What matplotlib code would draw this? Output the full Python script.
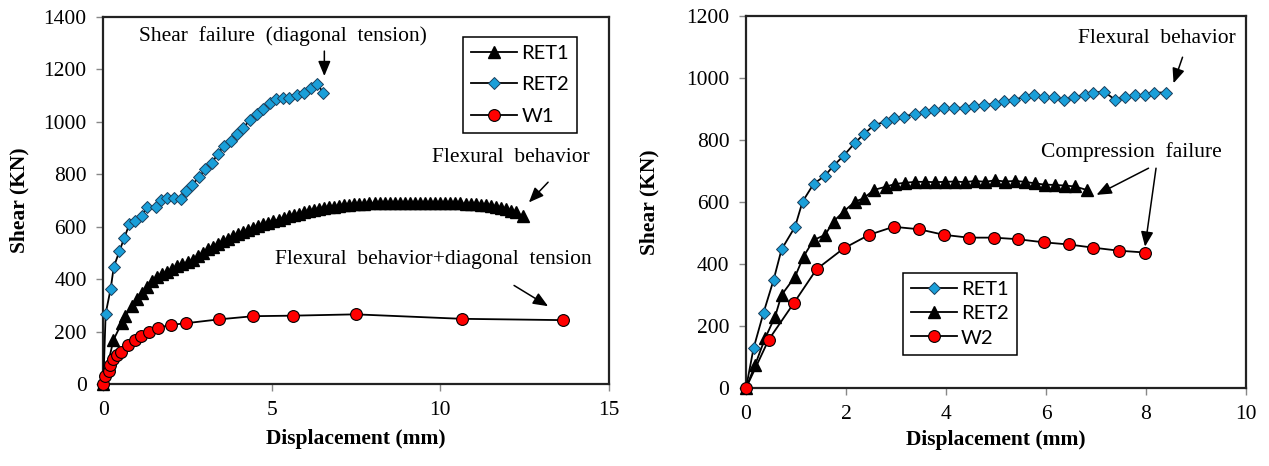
import matplotlib

matplotlib.use("Agg")
import matplotlib.pyplot as plt


# Left panel: RET1, RET2, W1
left_ret1_x = [0, 0.3, 0.55, 0.65, 0.85, 1.0, 1.15, 1.3, 1.45, 1.6, 1.75, 1.9, 2.05, 2.2, 2.35,
               2.5, 2.65, 2.8, 2.95, 3.1, 3.25, 3.4, 3.55, 3.7, 3.85, 4.0, 4.15, 4.3, 4.45, 4.6,
               4.75, 4.9, 5.05, 5.2, 5.35, 5.5, 5.65, 5.8, 5.95, 6.1, 6.25, 6.4, 6.55, 6.7, 6.85,
               7.0, 7.15, 7.3, 7.45, 7.6, 7.75, 7.9, 8.05, 8.2, 8.35, 8.5, 8.65, 8.8, 8.95, 9.1,
               9.25, 9.4, 9.55, 9.7, 9.85, 10.0, 10.15, 10.3, 10.45, 10.6, 10.75, 10.9, 11.05,
               11.2, 11.35, 11.5, 11.65, 11.8, 11.95, 12.1, 12.25, 12.45]
left_ret1_y = [0, 169, 235, 260, 300, 327, 350, 370, 395, 410, 420, 430, 440, 450, 458,
               466, 474, 488, 500, 515, 525, 535, 546, 555, 564, 574, 581, 589, 596, 603,
               610, 616, 622, 628, 634, 640, 645, 650, 655, 660, 664, 668, 671, 674, 677,
               680, 682, 684, 686, 687, 688, 689, 690, 690, 691, 691, 691, 692, 692, 692,
               692, 692, 692, 692, 692, 691, 691, 690, 690, 689, 688, 687, 686,
               684, 682, 680, 677, 673, 668, 662, 655, 640]

left_ret2_x = [0, 0.07, 0.22, 0.31, 0.48, 0.62, 0.77, 0.94, 1.14, 1.31, 1.55, 1.70, 1.90, 2.10,
               2.30, 2.45, 2.62, 2.84, 3.02, 3.22, 3.39, 3.59, 3.79, 3.96, 4.15, 4.35, 4.55,
               4.75, 4.95, 5.14, 5.32, 5.52, 5.74, 5.96, 6.15, 6.35, 6.53]
left_ret2_y = [0, 270, 365, 447, 508, 557, 609, 624, 643, 677, 674, 704, 709, 709,
               707, 738, 759, 788, 820, 842, 877, 909, 928, 953, 976, 1007, 1029,
               1048, 1073, 1086, 1092, 1092, 1102, 1111, 1128, 1143, 1111]

left_w1_x = [0, 0.05, 0.18, 0.2, 0.28, 0.42, 0.54, 0.74, 0.94, 1.11, 1.37, 1.63, 2.01, 2.44,
             3.44, 4.45, 5.62, 7.49, 10.64, 13.64]
left_w1_y = [0, 32, 52, 74, 97, 112, 125, 150, 169, 184, 200, 216, 227, 233,
             248, 260, 262, 267, 250, 245]

# Right panel: RET1, RET2, W2
right_ret1_x = [0, 0.15, 0.35, 0.55, 0.71, 0.98, 1.13, 1.35, 1.58, 1.75, 1.95, 2.18, 2.35, 2.56,
                2.79, 2.95, 3.15, 3.38, 3.57, 3.75, 3.95, 4.15, 4.38, 4.56, 4.75, 4.97, 5.16,
                5.35, 5.58, 5.75, 5.96, 6.16, 6.36, 6.56, 6.78, 6.93, 7.16, 7.38, 7.58, 7.78,
                7.98, 8.16, 8.39]
right_ret1_y = [0, 128, 243, 348, 447, 520, 601, 658, 685, 717, 749, 791, 818, 848,
                859, 870, 875, 885, 890, 898, 902, 904, 904, 910, 913, 916, 925,
                929, 940, 945, 940, 938, 930, 940, 945, 953, 956, 930, 940, 945,
                945, 953, 953]

right_ret2_x = [0, 0.18, 0.38, 0.58, 0.71, 0.98, 1.15, 1.35, 1.58, 1.75, 1.95, 2.18, 2.35, 2.56,
                2.79, 2.98, 3.18, 3.38, 3.58, 3.78, 3.98, 4.18, 4.38, 4.58, 4.78, 4.98, 5.18,
                5.38, 5.58, 5.78, 5.98, 6.18, 6.38, 6.58, 6.81]
right_ret2_y = [0, 74, 160, 230, 300, 359, 424, 477, 494, 537, 569, 601, 612, 639,
                649, 658, 662, 665, 665, 664, 665, 666, 664, 668, 665, 670, 666,
                668, 665, 660, 656, 655, 653, 650, 639]

right_w2_x = [0, 0.45, 0.96, 1.41, 1.95, 2.46, 2.95, 3.46, 3.96, 4.45, 4.96, 5.43, 5.95, 6.45,
              6.93, 7.45, 7.98]
right_w2_y = [0, 155, 275, 383, 450, 494, 520, 512, 494, 485, 485, 480, 470, 463,
              453, 443, 437]

SERIF = "Liberation Serif"
SANS = "Lato"
BLUE = "#1a9fd9"
RED = "#ff0000"

LINE = dict(color="black", lw=1.3, clip_on=False)
TRI = dict(marker="^", ms=9, mfc="black", mec="black", **LINE)
DIA = dict(marker="D", ms=6.6, mfc=BLUE, mec="#1b3f5c", mew=0.7, **LINE)
CIRC = dict(marker="o", ms=8.5, mfc=RED, mec="black", mew=0.8, **LINE)
ARROW = dict(arrowstyle="-|>,head_length=0.6,head_width=0.25", color="black", lw=1.1,
             mutation_scale=15, shrinkA=0, shrinkB=0)


def style_axes(ax, xmax, xstep, ymax):
    ax.set_xlim(0, xmax)
    ax.set_ylim(0, ymax)
    ax.set_xticks(range(0, xmax + 1, xstep))
    ax.set_yticks(range(0, ymax + 1, 200))
    ax.tick_params(direction="out", length=5, width=1, color="#888888", labelsize=15.5, pad=7)
    for lab in ax.get_xticklabels() + ax.get_yticklabels():
        lab.set_fontfamily(SERIF)
    for spine in ax.spines.values():
        spine.set_linewidth(1.6)
        spine.set_color("#222222")
    ax.set_xlabel("Displacement (mm)", fontfamily=SERIF, fontweight="bold", fontsize=15.5)
    ax.set_ylabel("Shear (KN)", fontfamily=SERIF, fontweight="bold", fontsize=15.5)


def note(ax, text, xy):
    ax.text(xy[0], xy[1], text, fontfamily=SERIF, fontsize=15.5, ha="center", va="center")


def arrow(ax, tail, head):
    ax.annotate("", xy=head, xytext=tail, arrowprops=ARROW)


def legend(ax, anchor, spacing):
    leg = ax.legend(loc="upper right", bbox_to_anchor=anchor, borderaxespad=0,
                    prop={"family": SANS, "size": 14.5}, handlelength=2.3, handletextpad=0.2,
                    labelspacing=spacing, borderpad=0.4, fancybox=False, framealpha=1,
                    edgecolor="black")
    leg.get_frame().set_linewidth(1.1)


fig = plt.figure(figsize=(12.69, 4.66), dpi=100)
ax1 = fig.add_axes([0.0814, 0.1749, 0.3983, 0.7893])
ax2 = fig.add_axes([0.5879, 0.1674, 0.3940, 0.7983])

# left panel
ax1.plot(left_ret1_x, left_ret1_y, label="RET1", zorder=3, **TRI)
ax1.plot(left_ret2_x, left_ret2_y, label="RET2", zorder=3, **DIA)
ax1.plot(left_w1_x, left_w1_y, label="W1", zorder=4, **CIRC)
style_axes(ax1, 15, 5, 1400)
ax1.xaxis.set_label_coords(0.5, -0.12)
ax1.yaxis.set_label_coords(-0.146, 0.5)
legend(ax1, (0.9377, 0.9457), 0.72)
note(ax1, "Shear  failure  (diagonal  tension)", (5.32, 1326))
arrow(ax1, (6.56, 1269), (6.56, 1174))
note(ax1, "Flexural  behavior", (12.10, 863))
arrow(ax1, (13.2, 770), (12.63, 693))
note(ax1, "Flexural  behavior+diagonal  tension", (9.79, 476))
arrow(ax1, (12.19, 377), (13.2, 298))

# right panel
ax2.plot(right_ret1_x, right_ret1_y, label="RET1", zorder=3, **DIA)
ax2.plot(right_ret2_x, right_ret2_y, label="RET2", zorder=3, **TRI)
ax2.plot(right_w2_x, right_w2_y, label="W2", zorder=4, **CIRC)
style_axes(ax2, 10, 2, 1200)
ax2.xaxis.set_label_coords(0.5, -0.112)
ax2.yaxis.set_label_coords(-0.173, 0.5)
legend(ax2, (0.5414, 0.31), 0.36)
note(ax2, "Flexural  behavior", (8.21, 1126))
arrow(ax2, (8.73, 1067), (8.55, 983))
note(ax2, "Compression  failure", (7.71, 762))
arrow(ax2, (8.05, 709), (7.01, 623))
arrow(ax2, (8.2, 709), (7.98, 456))

fig.savefig("out.png", dpi=100)
